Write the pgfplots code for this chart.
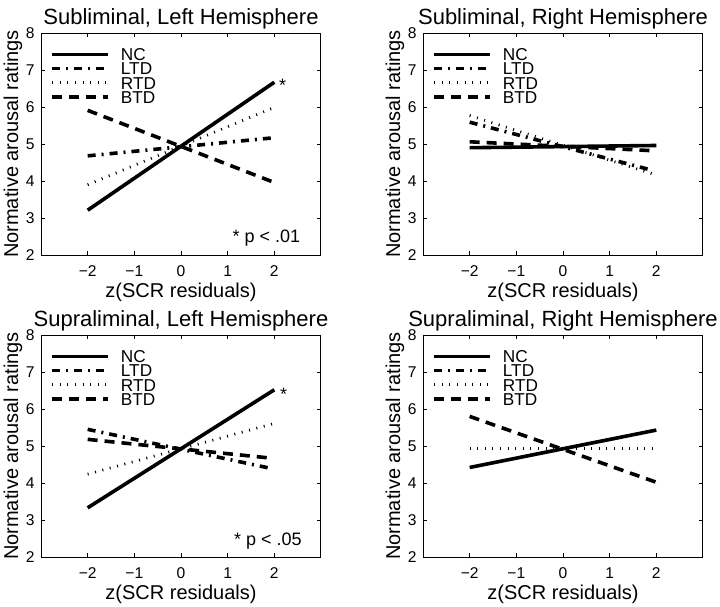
\documentclass[border=0pt]{standalone}
\usepackage{fontspec}
\setmainfont{Liberation Sans}
\usepackage{pgfplots}
\pgfplotsset{compat=1.18}

% line styles of the four groups
\tikzset{
  nc/.style={black, line width=1.8pt},
  ltd/.style={black, line width=1.8pt, dash pattern=on 4pt off 3pt on 1pt off 3pt},
  rtd/.style={black, line width=1.4pt, dash pattern=on 0.5pt off 3.3pt},
  btd/.style={black, line width=1.8pt, dash pattern=on 5pt off 3.5pt},
  note/.style={font=\fontsize{9}{11}\selectfont, anchor=base},
}

\pgfplotsset{
  panel/.style={
    scale only axis, width=140pt, height=111pt,
    xmin=-3, xmax=3, ymin=2, ymax=8,
    xtick={-2,-1,0,1,2}, xticklabels={−2,−1,0,1,2},
    ytick={2,3,4,5,6,7,8},
    yticklabels={2,3,4,5,6,7,8},
    tick align=inside, major tick length=2pt,
    axis line style={line width=0.5pt},
    tick style={black, line width=0.4pt},
    tick label style={font=\fontsize{7.8}{9}\selectfont},
    yticklabel style={anchor=east, inner sep=0pt, xshift=-3pt},
    xticklabel style={yshift=-1.8pt},
    xlabel={z(SCR residuals)},
    ylabel={Normative arousal ratings},
    label style={font=\fontsize{10}{12}\selectfont},
    x label style={at={(axis description cs:0.5,-0.17)}, anchor=center},
    y label style={at={(axis description cs:-0.1,0.5)}, anchor=center},
    title style={at={(axis description cs:0.5,1.01)}, anchor=center,
                 font=\fontsize{11}{13}\selectfont},
    legend cell align=left,
    legend image code/.code={\draw[##1] (0pt,0pt) -- (28pt,0pt);},
    legend style={at={(axis description cs:0.032,0.933)}, anchor=north west,
                  draw=none, fill=none, inner sep=0pt, row sep=0.9pt, column sep=5.5pt,
                  font=\fontsize{8.6}{9}\selectfont,
                  nodes={inner sep=0pt, text height=6.2pt, text depth=0pt}},
  },
}

\begin{document}
\begin{tikzpicture}
\path[use as bounding box] (0,0) rectangle (360pt,303.5pt);

% Subliminal, left hemisphere
\begin{axis}[panel, at={(20.5pt,176pt)}, anchor=south west,
    title={Subliminal, Left Hemisphere}]
\addplot[nc]  coordinates {(-2,3.21) (2,6.67)};
\addplot[ltd] coordinates {(-2,4.68) (2,5.17)};
\addplot[rtd] coordinates {(-2,3.90) (2,5.99)};
\addplot[btd] coordinates {(-2,5.91) (2,3.96)};
\legend{NC,LTD,RTD,BTD}
\node[note] at (axis cs:2.18,6.43) {*};
\node[note] at (axis cs:1.83,2.33) {* p < .01};
\end{axis}

% Subliminal, right hemisphere
\begin{axis}[panel, at={(211.5pt,176pt)}, anchor=south west,
    title={Subliminal, Right Hemisphere}]
\addplot[nc]  coordinates {(-2,4.90) (2,4.96)};
\addplot[ltd] coordinates {(-2,5.59) (1.91,4.29)};
\addplot[rtd] coordinates {(-2,5.77) (2,4.16)};
\addplot[btd] coordinates {(-2,5.06) (1.91,4.82)};
\legend{NC,LTD,RTD,BTD}
\end{axis}

% Supraliminal, left hemisphere
\begin{axis}[panel, at={(20.5pt,25pt)}, anchor=south west,
    title={Supraliminal, Left Hemisphere}]
\addplot[nc]  coordinates {(-2,3.33) (2,6.52)};
\addplot[ltd] coordinates {(-2,5.45) (1.87,4.41)};
\addplot[rtd] coordinates {(-2,4.24) (2,5.61)};
\addplot[btd] coordinates {(-2,5.18) (1.87,4.68)};
\legend{NC,LTD,RTD,BTD}
\node[note] at (axis cs:2.2,6.23) {*};
\node[note] at (axis cs:1.86,2.31) {* p < .05};
\end{axis}

% Supraliminal, right hemisphere
\begin{axis}[panel, at={(211.5pt,25pt)}, anchor=south west,
    title={Supraliminal, Right Hemisphere}]
\addplot[nc]  coordinates {(-2,4.42) (2,5.43)};
\addlegendimage{ltd}
\addplot[rtd] coordinates {(-2,4.93) (2,4.93)};
\addplot[btd] coordinates {(-2,5.80) (2,4.02)};
\legend{NC,LTD,RTD,BTD}
\end{axis}
\end{tikzpicture}
\end{document}
